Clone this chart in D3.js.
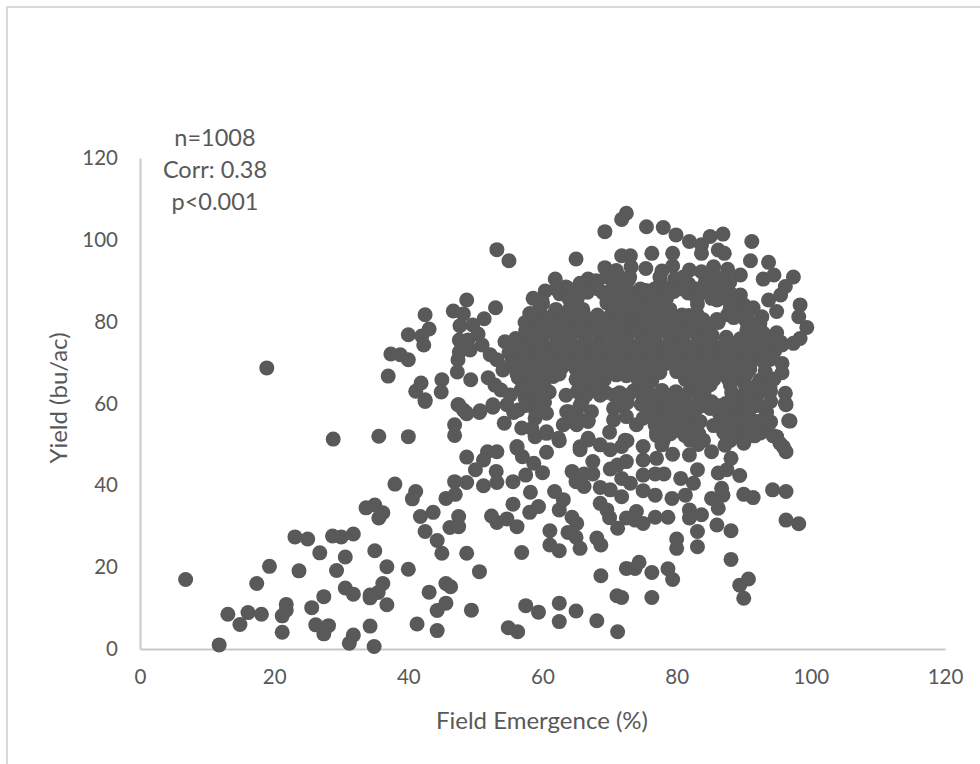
<!DOCTYPE html>
<html>
<head>
<meta charset="utf-8">
<script src="https://cdnjs.cloudflare.com/ajax/libs/d3/7.8.5/d3.min.js"></script>
<style>
  body { margin: 0; background: #fff; overflow: hidden; }
  text { font-family: Lato, sans-serif; fill: #595959; }
</style>
</head>
<body>
<div id="vis"></div>
<script>
var totalWidth = 980;
var totalHeight = 764;
var margin = {top: 158, right: 35, bottom: 115, left: 140};
var dotRadius = 7.5;
var tickFont = "20.5px";
var titleFont = "24px";
var noteFont = "23.5px";

var xTicks = [0, 20, 40, 60, 80, 100, 120];
var yTicks = [0, 20, 40, 60, 80, 100, 120];
var xTitle = "Field Emergence (%)";
var yTitle = "Yield (bu/ac)";
var notes = ["n=1008", "Corr: 0.38", "p<0.001"];

// [emergence, yield]
var lowScatter = [
  [6.8,17],[11.8,1],[13.1,8.5],[14.9,6],[16.1,8.9],[18.1,8.5],[17.4,16],[19.3,20.2],[21.2,4.1],[21.2,8.1],
  [21.8,9.5],[21.8,10.9],[23.7,19.1],[25.6,10.1],[26.2,5.9],[27.4,12.8],[28.1,5.7],[27.4,3.7],[29.3,19.2],
  [30.6,14.9],[31.8,13.4],[31.8,3.4],[31.2,1.4],[34.3,5.6],[34.9,0.6],[34.3,12.5],[34.3,13.2],[35.5,13.8],
  [36.2,16],[36.8,10.8],[36.8,20.1],[23.1,27.4],[25,26.9],[26.8,23.5],[28.7,27.6],[30,27.4],[31.8,28.1],
  [30.6,22.5],[33.7,34.5],[35,35.2],[35.6,32],[36.2,33.3],[35,24],[38,40.3],[18.9,68.7],[28.8,51.3],
  [35.6,52],[40,51.9]
];

var midScatter = [
  [42.5,60.5],[47.5,59.7],[48.6,57.8],[50.6,57.8],[52.6,59.1],[54.7,59.7],[55.7,57.8],[54.3,55.2],[46.9,54.8],
  [46.9,52.2],[48.7,46.9],[51.8,48.2],[53.2,48.2],[51.2,46.2],[50,43.8],[53.1,43.4],[46.9,40.9],[48.7,40.7],
  [51.2,39.9],[53.2,40.7],[55.6,40.9],[57.5,42.5],[58.7,45.4],[60,43.1],[56.2,49.1],[57,47],[60.6,48.1],
  [62.5,50.9],[41.1,38.5],[40.6,36.7],[47,37.8],[45.6,36.8],[58.2,38.3],[55.6,35.4],[59.4,34.8],[58.1,33.4],
  [61.8,38.5],[63.1,36.5],[62.5,34],[41.8,32.4],[43.7,33.4],[47.5,32.4],[46.2,29.7],[47.5,29.9],[42.5,28.7],
  [52.4,32.5],[53.2,30.9],[54.7,31.8],[56.2,29.9],[64.4,32.2],[65.1,30.7],[61.1,28.9],[63.8,28.5],[65,27.3],
  [65.6,24.6],[61.1,25.4],[62.5,24],[68.1,27.1],[68.7,25.4],[44.3,26.5],[45,23.4],[48.7,23.4],[56.9,23.6],
  [40,19.5],[50.6,18.9],[45.6,16],[46.3,15.2],[43.1,13.9],[45.6,11.2],[44.3,9.4],[49.4,9.5],[41.3,6.1],
  [44.3,4.5],[57.5,10.6],[59.4,9],[62.5,11.2],[65,9.3],[62.5,6.7],[68.1,6.9],[54.9,5.2],[56.3,4.2],[71.2,4.2],
  [68.7,17.9],[72.5,19.7],[73.8,19.7],[74.4,21.2],[76.3,18.7],[78.7,19.6],[79.4,17],[71.1,13],[71.8,12.6],
  [76.3,12.6],[88.1,21.9],[90.7,17.1],[89.4,15.6],[90,12.4],[80,26.9],[80,24.6],[83.1,25],[83.1,28.7],
  [88.1,28.9],[96.3,31.5],[98.2,30.6],[94.3,38.9],[96.3,38.5],[90,37.8],[91.4,37],[68.6,39.5],[70.1,38.9],
  [71.8,37.2],[68.6,35.6],[69.6,34],[70,32.1],[71.2,29.5],[72.5,32],[74,33.6],[75,30.7],[76.8,32.2],[78.7,32.2],
  [73.8,31.5],[64.4,43.4],[65,40.9],[66.2,39.7],[66.2,42.8],[67.5,42.8],[67.5,45.8],[65.6,48.7],[66.8,51.1],
  [68.6,49.9],[70.1,48.7],[70.1,44],[72.5,45.8],[71.2,45],[71.8,41.7],[73.1,40.5],[75,38.7],[76.8,37.6],
  [78.1,42.8],[76.8,42.8],[75,42.5],[79.3,36.8],[81.3,37.6],[80.6,41.7],[82.5,40.5],[83.1,43.8],[85.2,36.8],
  [86.9,37.6],[86.2,34.4],[81.9,34],[81.9,32],[83.7,32.8],[86,30.3],[89.4,42.4],[86.2,43],[87.5,43.8],[86.7,39.3],
  [75,49.5],[75,46.2],[77,46.6],[79.4,47.6],[81.9,47.4],[85.2,48.2],[88.1,46.6],[96.3,48.2],[95.4,50.3],
  [94.4,52.1],[72.6,50.9],[71.8,49.5],[56.9,54],[58.9,51.9],[60.6,53.1],[63.1,54.8],[65.1,54.8],[66.8,55.6],
  [65.1,57.2],[63.6,58],[67.3,58],[60.6,57.6],[58.9,56.4],[70.6,58.8],[72.5,56.8],[70.6,56],[70,53],[75,56.4],
  [96.7,55.8],[93.4,57.8],[96.3,59.7],[90,50.3]
];

var upperLeft = [
  [37,66.7],[37.4,72.1],[38.8,71.9],[40,70.7],[40,76.8],[42,76.5],[43.1,78.2],[42.5,81.7],[42.3,74.3],[41.1,63],
  [41.9,65],[42.5,60.9],[45,65.8],[44.9,62.8],[46.7,82.6],[48.7,85.3],[48.2,81.9],[47.7,79],[49.6,79.2],[50.4,77],
  [51.3,80.7],[53,83.4],[53.2,97.6],[55,94.9],[47.6,75.5],[48.9,75.5],[47.6,72.6],[49.2,73.1],[47.4,70.7],
  [47.3,67.7],[49.3,65.8],[51,74.3],[52.2,71.9],[53.2,70.7],[51.9,66.3],[52.9,64.5],[54.1,68.2],[47.4,59.7],
  [48.2,58.4],[50.7,58.2],[48.7,57.5],[52.6,59.7],[53.8,63.3],[55.2,62.1],[54.4,75.1],[55.5,72.6],[55.8,69.4],
  [56.4,66.3],[57.4,61.4],[56.4,58.4]
];

var blobEdge = [
  [72.5,106.5],[71.8,105],[69.3,102],[75.5,103.2],[78,103],[79.9,101.2],[81.9,99.6],[83.7,98.8],[85,100.8],
  [86.9,101.4],[91.2,99.6],[65,95.3],[71.8,96.1],[73.1,96.1],[76.3,96.7],[79.4,96.7],[79.4,93.6],[83.7,96.7],
  [86.2,97.5],[87.1,96.7],[91,94.9],[93.7,94.5],[97.4,90.9],[69.3,93.2],[61.9,90.4],[66.8,90.4],[65.6,89.4],
  [60.4,87.5],[58.6,85.7],[58.1,82],[57.4,79.8],[56,75.9],[81.9,92.6],[83.7,92.2],[89.5,91.4],[86.7,90.6],
  [94.5,91.4],[92.9,90.4],[96.2,88.6],[95.5,86.5],[93.7,85.3],[98.4,84.1],[98.2,81.2],[99.4,78.6],[98.4,75.9],
  [97.4,74.7],[94.9,82.5],[92.7,81.2],[92.4,79.6],[94.9,77.3],[90,84.1],[89.5,86.5],[88,86.9],[86,85.3],[90.5,78],
  [92.9,77.2],[95.7,74.3],[95.7,69.8],[95.7,67.5],[93.2,67.8],[92.4,65.7],[93.9,64.1],[96.2,62.5],[96.2,60],
  [96.9,55.7],[92.2,62.5],[94.9,51.9],[95.9,49.4],[63.9,58],[64.9,55.6],[66.8,55.9],[72.3,51],[66.8,51.5],
  [62.4,51.5],[58.4,53.9],[60.6,52.7],[56.2,49.5],[65.6,49.4]
];

var blobCore = [
  [71,92.5],[73.2,93.4],[75.4,93],[77.8,92.4],[85.5,93.4],[87.6,92.8],
  [63.5,88.5],[68,90],[70.6,89.5],[72.8,90.2],[77.6,89.3],[79.7,90.4],[81.8,89.2],[84.3,89.8],[87.9,89.6],
  [62.6,86.8],[64.6,87],[66.7,87.2],[69,87.1],[71.2,87.3],[73.3,87],[75.4,87.6],[77.5,86.8],[79.6,87.4],[81.7,87],[83.8,87.2],[85.9,87.8],
  [60,84.4],[64.5,84.3],[69.6,84.6],[71.8,84.1],[73.9,84.8],[76,84.2],[78,84.6],[83.1,84.3],[88.8,84.2],[91.4,83.4],
  [59.8,81.8],[61.8,82],[63.9,81.5],[66.1,82],[68.2,81.6],[70.3,81.9],[72.4,81.5],[74.5,82],[76.6,81.6],[78.7,82],[80.8,81.6],[82.9,81.9],[87.6,81.7],[89.7,81.4],
  [59.2,79.2],[61.3,79],[63.4,79.4],[65.5,78.9],[67.6,79.3],[69.7,79],[71.8,79.4],[73.9,79],[76,79.3],[78.1,78.9],[80.2,79.3],[82.3,79],[84.4,79.4],[86.2,79.8],[90.3,80.3],
  [58,76.4],[60.1,76.6],[62.2,76.2],[64.3,76.7],[66.4,76.3],[68.5,76.6],[70.6,76.2],[72.7,76.7],[74.8,76.3],[76.9,76.6],[79,76.2],[81.1,76.7],[83.2,76.3],[85.3,76.6],[87.4,76.2],[89.5,75.8],[91.6,75.4],[93.7,75.8],
  [57,73.6],[59.1,73.9],[61.2,73.5],[63.3,74],[65.4,73.6],[67.5,73.9],[69.6,73.5],[71.7,74],[73.8,73.6],[75.9,73.9],[78,73.5],[80.1,74],[82.2,73.6],[84.3,73.9],[86.4,73.5],[88.5,74],[90.6,73.6],[92.7,74],[94.6,72.8],
  [56.2,71],[58.3,71.3],[60.4,70.9],[62.5,71.4],[64.6,71],[66.7,71.3],[68.8,70.9],[70.9,71.4],[73,71],[75.1,71.3],[77.2,70.9],[79.3,71.4],[81.4,71],[83.5,71.3],[85.6,70.9],[87.7,71.4],[89.8,71],[91.9,71.3],[94,70.8],
  [56.6,68.4],[58.7,68.7],[60.8,68.3],[62.9,68.8],[65,68.4],[67.1,68.7],[69.2,68.3],[71.3,68.8],[73.4,68.4],[75.5,68.7],[77.6,68.9],[80.4,68.8],[82.5,68.4],[84.6,68.7],[86.7,68.3],[88.8,68.8],[90.9,68.4],
  [57.4,65.8],[59.5,66.1],[61.6,66.6],[65,65.9],[67.1,66.2],[69.2,65.8],[74.2,66],[76.3,65.6],[81.3,65.9],[83.4,66.2],[85.5,65.8],[87.6,66.2],[89.7,65.8],
  [56.8,63.3],[58.9,63.6],[61,62.8],[65.2,62.9],[67.3,63.3],[69.4,62.7],[71.5,62.6],[73.6,63.1],[75.7,62.7],[77.8,63.2],[79.9,62.9],[82,63.3],[84.1,62.9],[88.2,62.7],[90.3,63.2],
  [58.2,60.8],[60.3,60.3],[65.9,60.5],[72.6,60.2],[74.7,59.8],[76.8,60.5],[78.9,60],[81,60.4],[83.1,60],[85.2,60.4],[87.3,60],[89.4,60.4],[91.5,60],
  [59,58],[76.2,57.4],[78.3,57.8],[80.4,57.4],[82.5,57.8],[86.4,57.5],[88.5,57.9],[90.6,57.4],
  [74,54.8],[76.8,54.7],[78.9,55.1],[81,54.7],[83.1,55],[85.5,54.6],[87.6,55],[89.7,54.6],[91.8,55],[93.2,54.4],
  [77,52.2],[79.1,52.6],[81.2,52.2],[83.3,52.6],[87.4,52.2],[89.5,52.6],[91.6,52.1],
  [77.8,49.9],[83.2,50],[87.2,49.8]
];

// second pass over the solid part, the dots there sit on top of each other
var blobFill = [
  [69.5,90.9],[71.5,90.9],[73,90.9],[77.5,90.9],[81,90.9],[85,90.9],[87.3,90.9],
  [62,88],[64,88],[66,88],[68.3,88],[70.4,88],[72.5,88],[74.6,88],[76.7,88],[78.8,88],[80.9,88],[83,88],[85.1,88],[87,88],
  [59.9,85.5],[63.9,85.7],[65.2,85.7],[70,85.7],[72.2,85.7],[74.3,85.7],[76.4,85.7],[78.5,85.7],[83,85.7],[85.2,85.7],[87.3,85.7],
  [59.5,83],[62,83],[64,83],[66,83],[70.8,83],[73,83],[75,83],[77,83],[79,83],[81.8,81.5],[83,81.9],[88,83.2],[90,82.4],
  [58.7,80.5],[60.8,80.5],[62.9,80.5],[65,80.5],[67.1,80.5],[69.2,80.5],[71.3,80.5],[73.4,80.5],[75.5,80.5],[77.6,80.5],[79.7,80.5],[81.8,80.5],[83.9,80.5],[86,80.5],[88.5,81],[90.7,80.5],
  [57.5,77.8],[59.6,77.8],[61.7,77.8],[63.8,77.8],[65.9,77.8],[68,77.8],[70.1,77.8],[72.2,77.8],[74.3,77.8],[76.4,77.8],[78.5,77.8],[80.6,77.8],[82.7,77.8],[84.8,77.8],[90.5,77.8],[92.5,77.8],
  [55.8,75],[57.9,75],[60,75],[62.1,75],[64.2,75],[66.3,75],[68.4,75],[70.5,75],[72.6,75],[74.7,75],[76.8,75],[78.9,75],[81,75],[83.1,75],[85.2,75],[87.3,75],[89.4,75],[91.5,75],[93.6,75],[95.5,75],
  [55,72.4],[57.2,72.4],[59.3,72.4],[61.4,72.4],[63.5,72.4],[65.6,72.4],[67.7,72.4],[69.8,72.4],[71.9,72.4],[74,72.4],[76.1,72.4],[78.2,72.4],[80.3,72.4],[82.4,72.4],[84.5,72.4],[86.6,72.4],[88.7,72.4],[90.8,72.4],[92.9,72.4],
  [55.3,69.8],[57.4,69.8],[59.5,69.8],[61.6,69.8],[63.7,69.8],[65.8,69.8],[67.9,69.8],[70,69.8],[72.1,69.8],[74.2,69.8],[76.3,69.8],[78.4,69.8],[80.5,69.8],[82.6,69.8],[84.7,69.8],[86.8,69.8],[88.9,69.8],[91,69.8],[93.1,69.8],
  [56.2,67.2],[58.3,67.2],[60.4,67.2],[62.5,67.2],[66.6,67.2],[68.7,67.2],[71,67],[72.5,66.8],[73.5,67.2],[75.6,67.2],[77.5,67.6],[80,67.8],[82,67.2],[84.1,67.2],[86.2,67.2],[88.3,67.2],[90.4,67.2],[94.5,66],
  [58.5,64.6],[60.2,64.6],[66,64.6],[68,64.6],[75,64.6],[83,64.6],[85,64.6],[88,64.6],[90.2,64.6],[92,64.6],[94,63],
  [57.8,62],[59.9,62],[63.5,62],[66.5,62],[68.6,62],[70.7,62],[72.8,62],[74.9,62],[77,62],[79.1,62],[81.2,62],[83.3,62],[88.4,62],[90.5,62],[89,61],[94,60.5],[92,60],
  [57.5,59.5],[59.6,59.5],[65.6,59.5],[71.5,59.5],[76,59.5],[78,59.5],[80,59.5],[82,59.5],[84,59.5],[86,59.5],[88,59.5],[90,59.5],[92,59.5],
  [77,58.8],[79,58.8],[81,58.8],[83,58.8],[85,58.8],[87,58.8],[89,58.8],[91,58.8],
  [64,56.2],[78,56.2],[80,56.2],[82,56.2],[87,56.2],[89,56.2],[91,56.2],[93,56.2],[94,55.5],
  [77.5,55.6],[79.5,55.6],[81.5,55.6],[83.5,55.6],[88,55.6],[90,55.6],[92,55.6],
  [78,53.5],[80,53.5],[82,53.5],[88,53.5],[90,53.5],[92,53.5],
  [77,52.9],[79,52.9],[81,52.9],[83,52.9],[87,52.9],[89,52.9],[91,52.9],[92.5,52.8],
  [78,51],[82,51],[84,51],[88,51],[90,51]
];

var points = lowScatter.concat(midScatter, upperLeft, blobEdge, blobCore, blobFill);

var width = totalWidth - margin.left - margin.right;
var height = totalHeight - margin.top - margin.bottom;

var x = d3.scaleLinear().domain([0, 120]).range([0, width]);
var y = d3.scaleLinear().domain([0, 120]).range([height, 0]);

var svg = d3.select("#vis").append("svg")
  .attr("width", totalWidth)
  .attr("height", totalHeight)
  .style("display", "block");

// chart frame, only the left and top sides fall inside the shot
svg.append("rect")
  .attr("x", 7)
  .attr("y", 7)
  .attr("width", 1000)
  .attr("height", 800)
  .attr("fill", "#fff")
  .attr("stroke", "#d9d9d9")
  .attr("stroke-width", 2);

var g = svg.append("g")
  .attr("transform", "translate(" + margin.left + "," + margin.top + ")");

var xAxis = g.append("g")
  .attr("transform", "translate(0," + height + ")")
  .call(d3.axisBottom(x).tickValues(xTicks).tickSize(0).tickPadding(20));
var yAxis = g.append("g")
  .call(d3.axisLeft(y).tickValues(yTicks).tickSize(0).tickPadding(22));

[xAxis, yAxis].forEach(function(axis){
  axis.select(".domain").attr("stroke", "#c9c9c9").attr("stroke-width", 2);
  axis.selectAll("text").style("font-size", tickFont).style("font-family", "Lato, sans-serif").attr("fill", "#595959");
});

g.selectAll(".dot")
  .data(points)
  .enter().append("circle")
  .attr("class", "dot")
  .attr("cx", d=>x(d[0]))
  .attr("cy", d=>y(d[1]))
  .attr("r", dotRadius)
  .attr("fill", "#595959");

svg.append("text")
  .attr("x", 542)
  .attr("y", 729)
  .attr("text-anchor", "middle")
  .style("font-size", titleFont)
  .text(xTitle);

svg.append("text")
  .attr("transform", "translate(67,398) rotate(-90)")
  .attr("text-anchor", "middle")
  .style("font-size", titleFont)
  .text(yTitle);

svg.selectAll(".note")
  .data(notes)
  .enter().append("text")
  .attr("class", "note")
  .attr("x", 215)
  .attr("y", (d, i)=>146 + i * 32)
  .attr("text-anchor", "middle")
  .style("font-size", noteFont)
  .text(d=>d);
</script>
</body>
</html>
